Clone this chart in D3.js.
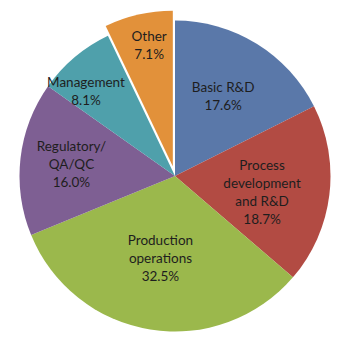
<!DOCTYPE html>
<html>
<head>
<meta charset="utf-8">
<script src="https://cdn.jsdelivr.net/npm/d3@7"></script>
<style>
  html, body { margin: 0; padding: 0; background: #ffffff; }
  svg { display: block; }
</style>
</head>
<body>
<svg id="chart" width="350" height="345"></svg>
<script>
// ---- data ----
const categories = ["Basic R&D", "Process development and R&D", "Production operations", "Regulatory/ QA/QC", "Management", "Other"];
const labelLines = [["Basic R&D"], ["Process", "development", "and R&D"], ["Production", "operations"], ["Regulatory/", "QA/QC"], ["Management"], ["Other"]];
const shares = [17.6, 18.7, 32.5, 16.0, 8.1, 7.1];
const explodedCategory = "Other";

// ---- style / layout ----
const colors = ["#5A78A9", "#B24B43", "#9BB84C", "#7E5F93", "#4FA0AB", "#E2913A"];
const labelLayout = { // radius factor and angle nudge (degrees) per label
  "Basic R&D": { rf: 0.60, da: -0.6 },
  "Process development and R&D": { rf: 0.57, da: 3.8 },
  "Production operations": { rf: 0.54, da: 0.8 },
  "Regulatory/ QA/QC": { rf: 0.67, da: -0.2 },
  "Management": { rf: 0.79, da: -6.3 },
  "Other": { rf: 0.79, da: 1.7 }
};
const cx = 175, cy = 176, R = 155.5, explode = 10, lineH = 18;

const svg = d3.select("#chart");
const g = svg.append("g").attr("transform", `translate(${cx},${cy})`);

const data = categories.map((c, i) => ({ cat: c, value: shares[i], lines: labelLines[i], color: colors[i] }));
const pie = d3.pie().value(d => d.value).sort(null);
const arcs = pie(data);
const arc = d3.arc().innerRadius(0).outerRadius(R);

const slice = g.selectAll("g.slice").data(arcs).join("g")
  .attr("class", "slice")
  .attr("transform", d => {
    if (d.data.cat !== explodedCategory) return null;
    const a = (d.startAngle + d.endAngle) / 2;
    return `translate(${explode * Math.sin(a)},${-explode * Math.cos(a)})`;
  });

slice.append("path")
  .attr("d", arc)
  .attr("fill", d => d.data.color);

slice.append("text")
  .attr("transform", d => {
    const L = labelLayout[d.data.cat];
    const a = (d.startAngle + d.endAngle) / 2 + L.da * Math.PI / 180;
    const r = R * L.rf;
    return `translate(${r * Math.sin(a)},${-r * Math.cos(a)})`;
  })
  .attr("text-anchor", "middle")
  .attr("font-family", "Lato, 'Open Sans', sans-serif")
  .attr("font-size", "13.5px")
  .attr("fill", "#1e1e1e")
  .each(function (d) {
    const lines = d.data.lines.concat([d3.format(".1f")(d.data.value) + "%"]);
    const n = lines.length;
    d3.select(this).selectAll("tspan").data(lines).join("tspan")
      .attr("x", 0)
      .attr("y", (t, i) => (i - (n - 1) / 2) * lineH)
      .attr("dy", "0.35em")
      .text(t => t);
  });
</script>
</body>
</html>
